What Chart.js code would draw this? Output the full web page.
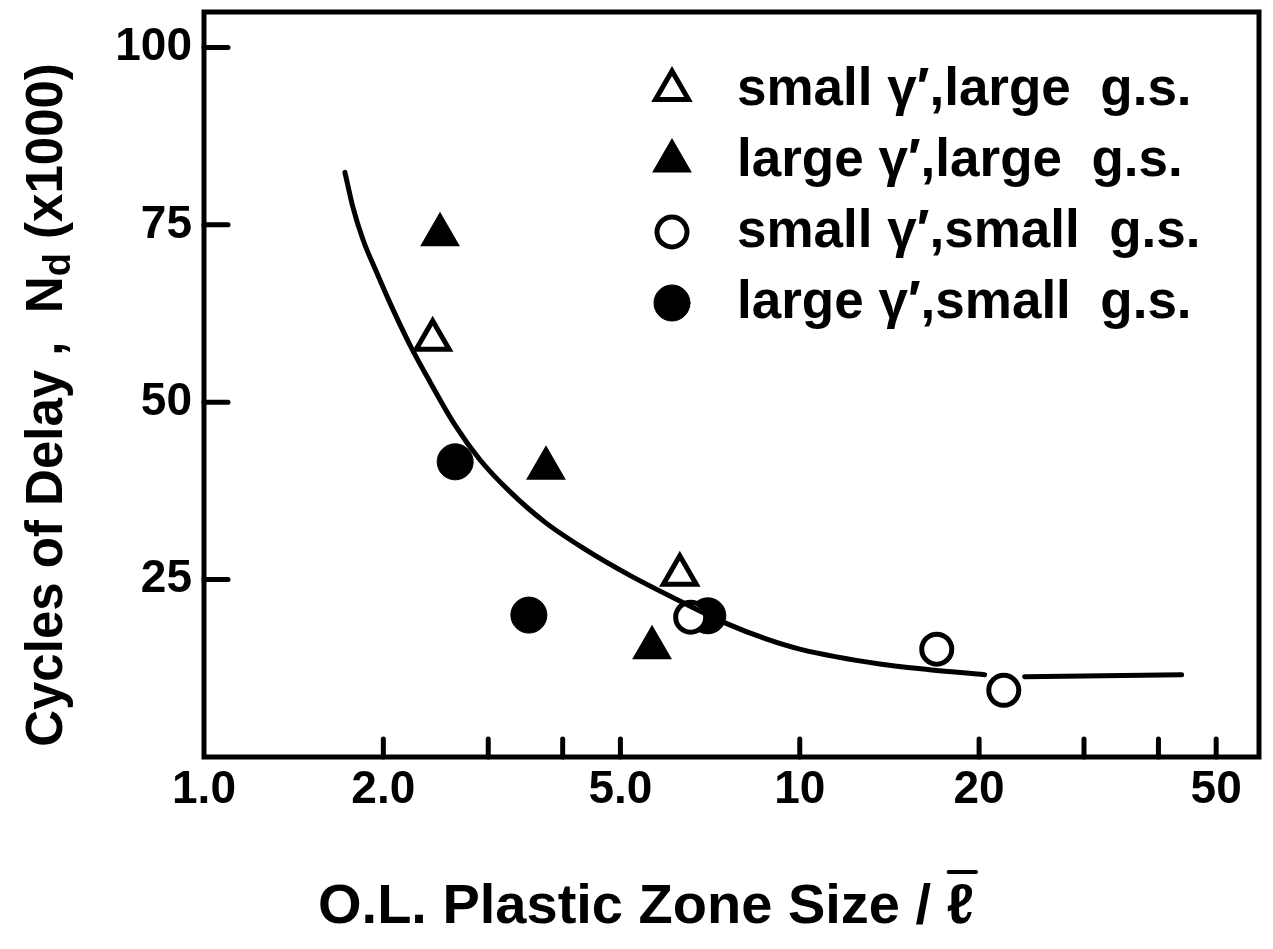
<!DOCTYPE html>
<html>
<head>
<meta charset="utf-8">
<script src="https://cdn.jsdelivr.net/npm/chart.js@4.4.1/dist/chart.umd.min.js"></script>
<style>
  html, body { margin: 0; padding: 0; background: #fff; }
</style>
</head>
<body>
<canvas id="myChart" width="1273" height="949"></canvas>
<script>
// data
const smallGammaLargeGsX = [2.42, 6.29];
const smallGammaLargeGsY = [58.8, 25.7];
const largeGammaLargeGsX = [2.49, 3.75, 5.65];
const largeGammaLargeGsY = [73.6, 40.7, 15.4];
const smallGammaSmallGsX = [6.56, 16.98, 22.0];
const smallGammaSmallGsY = [19.7, 15.2, 9.4];
const largeGammaSmallGsX = [2.64, 3.51, 7.01];
const largeGammaSmallGsY = [41.6, 20.0, 19.9];

// hand drawn curve (broken where it meets the circle near 22)
const curveX = [1.724, 1.778, 1.849, 1.951, 2.067, 2.216, 2.394, 2.637, 2.905, 3.262, 3.734, 4.357, 5.186, 6.218, 7.542, 8.804, 10.0, 13.62, 16.52, 20.43, 22.0, 23.85, 43.75];
const curveY = [82.4, 77.5, 72.9, 68.2, 63.4, 58.1, 52.9, 46.8, 41.9, 37.4, 33.1, 29.3, 25.6, 22.2, 18.8, 16.6, 15.2, 13.1, 12.3, 11.6, null, 11.3, 11.6];

const xTickValues = [1, 2, 3, 4, 5, 10, 20, 30, 40, 50];
const xTickLabels = ['1.0', '2.0', '', '', '5.0', '10', '20', '', '', '50'];
const yTickValues = [25, 50, 75, 100];

const legendLabels = [
  'small \u03b3\u2032,large  g.s.',
  'large \u03b3\u2032,large  g.s.',
  'small \u03b3\u2032,small  g.s.',
  'large \u03b3\u2032,small  g.s.'
];

const FONT = 'Liberation Sans';

function pts(xs, ys) {
  return xs.map((x, i) => ({ x: x, y: ys[i] }));
}

const framePlugin = {
  id: 'frame',
  afterDraw(chart) {
    const ctx = chart.ctx;
    const a = chart.chartArea;
    const xs = chart.scales.x, ys = chart.scales.y;
    ctx.save();
    ctx.strokeStyle = '#000';
    ctx.lineWidth = 5;
    ctx.lineCap = 'round';
    ctx.strokeRect(a.left, a.top, a.right - a.left, a.bottom - a.top);
    // inward ticks
    xTickValues.forEach(v => {
      if (v === 1) return;
      const px = xs.getPixelForValue(v);
      ctx.beginPath();
      ctx.moveTo(px, a.bottom);
      ctx.lineTo(px, a.bottom - 18);
      ctx.stroke();
    });
    yTickValues.forEach(v => {
      const py = ys.getPixelForValue(v);
      ctx.beginPath();
      ctx.moveTo(a.left, py);
      ctx.lineTo(a.left + 24, py);
      ctx.stroke();
    });

    // x title, with a bar over the l
    ctx.fillStyle = '#000';
    ctx.font = 'bold 56px "' + FONT + '"';
    ctx.textAlign = 'left';
    ctx.textBaseline = 'middle';
    const t1 = 'O.L. Plastic Zone Size / ', t2 = '\u2113';
    const tw1 = ctx.measureText(t1).width, tw2 = ctx.measureText(t2).width;
    let tx = 646 - (tw1 + tw2) / 2;
    ctx.fillText(t1, tx, 908);
    ctx.fillText(t2, tx + tw1, 908);
    ctx.lineWidth = 4;
    ctx.beginPath();
    ctx.moveTo(tx + tw1 + 2, 872);
    ctx.lineTo(tx + tw1 + tw2 + 2, 872);
    ctx.stroke();

    // y title with subscript
    ctx.save();
    ctx.translate(48, 405);
    ctx.rotate(-Math.PI / 2);
    const big = 'bold 51px "' + FONT + '"';
    const small = 'bold 38px "' + FONT + '"';
    const p1 = 'Cycles of Delay ,  N', p2 = 'd', p3 = ' (x1000)';
    ctx.font = big;
    const w1 = ctx.measureText(p1).width, w3 = ctx.measureText(p3).width;
    ctx.font = small;
    const w2 = ctx.measureText(p2).width;
    let cx = -(w1 + w2 + w3) / 2;
    ctx.textAlign = 'left';
    ctx.font = big;
    ctx.fillText(p1, cx, 0);
    cx += w1;
    ctx.font = small;
    ctx.fillText(p2, cx, 12);
    cx += w2;
    ctx.font = big;
    ctx.fillText(p3, cx, 0);
    ctx.restore();

    // legend
    const items = chart.data.datasets.filter(d => d.legendIndex !== undefined);
    items.forEach(d => {
      const y = 90 + d.legendIndex * 71;
      ctx.fillStyle = d.backgroundColor;
      ctx.strokeStyle = d.borderColor;
      ctx.lineWidth = d.borderWidth;
      Chart.helpers.drawPoint(ctx, {
        pointStyle: d.pointStyle,
        rotation: 0,
        radius: d.pointRadius,
        borderWidth: d.borderWidth
      }, 672, y);
      ctx.fillStyle = '#000';
      ctx.font = 'bold 53px "' + FONT + '"';
      ctx.textAlign = 'left';
      ctx.textBaseline = 'middle';
      ctx.fillText(legendLabels[d.legendIndex], 737, y);
    });
    ctx.restore();
  }
};

const data = {
  datasets: [
    {
      label: 'curve',
      data: pts(curveX, curveY),
      showLine: true,
      borderColor: '#000',
      borderWidth: 5,
      borderCapStyle: 'round',
      pointRadius: 0,
      cubicInterpolationMode: 'monotone',
      spanGaps: false
    },
    {
      label: legendLabels[0],
      legendIndex: 0,
      data: pts(smallGammaLargeGsX, smallGammaLargeGsY),
      pointStyle: 'triangle',
      pointRadius: 19,
      backgroundColor: '#fff',
      borderColor: '#000',
      borderWidth: 5
    },
    {
      label: legendLabels[1],
      legendIndex: 1,
      data: pts(largeGammaLargeGsX, largeGammaLargeGsY),
      pointStyle: 'triangle',
      pointRadius: 20,
      backgroundColor: '#000',
      borderColor: '#000',
      borderWidth: 3
    },
    {
      label: legendLabels[2],
      legendIndex: 2,
      data: pts(smallGammaSmallGsX, smallGammaSmallGsY),
      pointStyle: 'circle',
      pointRadius: 15,
      backgroundColor: '#fff',
      borderColor: '#000',
      borderWidth: 5
    },
    {
      label: legendLabels[3],
      legendIndex: 3,
      data: pts(largeGammaSmallGsX, largeGammaSmallGsY),
      pointStyle: 'circle',
      pointRadius: 18,
      backgroundColor: '#000',
      borderColor: '#000',
      borderWidth: 1
    }
  ]
};

const config = {
  type: 'scatter',
  data: data,
  options: {
    responsive: false,
    animation: false,
    layout: { autoPadding: false, padding: { top: 12, right: 14, left: 0, bottom: 0 } },
    plugins: {
      legend: { display: false },
      tooltip: { enabled: false }
    },
    scales: {
      x: {
        type: 'logarithmic',
        min: 1,
        max: 59,
        afterBuildTicks: s => { s.ticks = xTickValues.map(v => ({ value: v })); },
        afterFit: s => { s.height = 192; s.paddingLeft = 0; s.paddingRight = 0; },
        grid: { display: false, drawTicks: false },
        border: { display: false },
        ticks: {
          autoSkip: false,
          maxRotation: 0,
          padding: 6,
          color: '#000',
          font: { family: FONT, size: 46, weight: 'bold' },
          callback: (v, i) => xTickLabels[i]
        }
      },
      y: {
        min: 0,
        max: 105,
        afterBuildTicks: s => { s.ticks = yTickValues.map(v => ({ value: v })); },
        afterFit: s => { s.width = 204; s.paddingTop = 0; s.paddingBottom = 0; },
        grid: { display: false, drawTicks: false },
        border: { display: false },
        ticks: {
          padding: 12,
          color: '#000',
          font: { family: FONT, size: 46, weight: 'bold' }
        }
      }
    }
  },
  plugins: [framePlugin]
};

const ctx = document.getElementById('myChart').getContext('2d');
const myChart = new Chart(ctx, config);
</script>
</body>
</html>
